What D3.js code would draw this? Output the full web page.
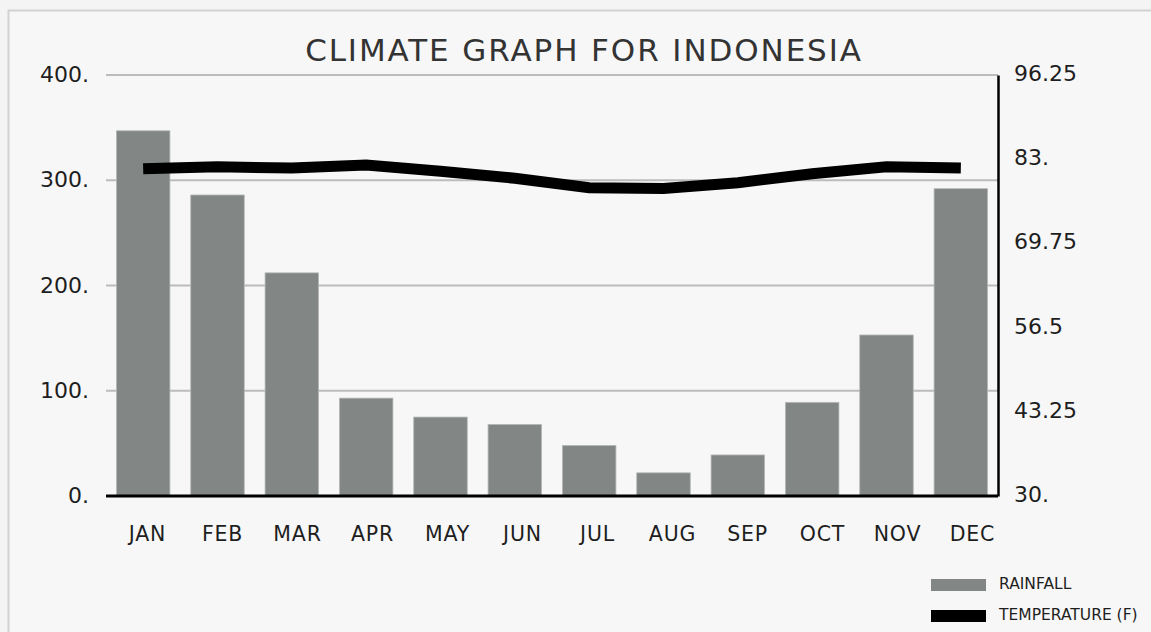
<!DOCTYPE html>
<html>
<head>
<meta charset="utf-8">
<script src="https://cdn.jsdelivr.net/npm/d3@7"></script>
<style>
  body { margin: 0; background: #f4f4f4; }
  text { font-family: "DejaVu Sans", sans-serif; fill: #1e1e1e; }
</style>
</head>
<body>
<div class="chartContainer"></div>
<script>
// DATA
var months = ['JAN', 'FEB', 'MAR', 'APR', 'MAY', 'JUN', 'JUL', 'AUG', 'SEP', 'OCT', 'NOV', 'DEC']
var rainfall = [347, 286, 212, 93, 75, 68, 48, 22, 39, 89, 153, 292]
var temperature = [81.5, 81.8, 81.6, 82.1, 81.1, 80.0, 78.5, 78.4, 79.3, 80.7, 81.8, 81.6]
var rainTicks = [0, 100, 200, 300, 400]
var tempTicks = [30, 43.25, 56.5, 69.75, 83, 96.25]

// SIZING
var W = 1151, H = 632
var margin = { top: 75, right: 153, bottom: 136, left: 106 }
var width = W - margin.left - margin.right
var height = H - margin.top - margin.bottom

var svg = d3.select('div.chartContainer')
  .append('svg')
  .attr('width', W)
  .attr('height', H)

// FRAME
svg.append('rect')
  .attr('x', 0).attr('y', 0).attr('width', W).attr('height', H)
  .attr('fill', '#f4f4f4')
svg.append('rect')
  .attr('x', 8.5).attr('y', 10.5).attr('width', W + 20).attr('height', H + 20)
  .attr('fill', '#f7f7f7')
  .attr('stroke', '#d2d2d2')
  .attr('stroke-width', 2)

var g = svg.append('g')
  .attr('transform', 'translate(' + margin.left + ',' + margin.top + ')')

// SCALES
var x = d3.scaleBand().domain(months).range([0, width]).paddingInner(0.28).paddingOuter(0.14)
// month labels sit a bit right of the bars in the original
var xLabel = d3.scalePoint().domain(months).range([41, 866])
var y = d3.scaleLinear().domain([0, 400]).range([height, 0])
var y2 = d3.scaleLinear().domain([30, 96.25]).range([height, 0])

var fmt = function(d) { return d3.format('')(d) + (Number.isInteger(d) ? '.' : '') }

// GRIDLINES
g.append('g')
  .selectAll('line')
  .data(rainTicks.filter(function(d) { return d > 0 }))
  .enter()
  .append('line')
  .attr('x1', 0).attr('x2', width)
  .attr('y1', function(d) { return y(d) }).attr('y2', function(d) { return y(d) })
  .attr('stroke', '#bcbcbc')
  .attr('stroke-width', 2)

// BARS
g.selectAll('rect.bar')
  .data(rainfall)
  .enter()
  .append('rect')
  .attr('class', 'bar')
  .attr('x', function(d, i) { return x(months[i]) })
  .attr('y', function(d) { return y(d) })
  .attr('width', x.bandwidth())
  .attr('height', function(d) { return height - y(d) })
  .attr('fill', '#828785')
  .attr('stroke', '#b5b8b7')
  .attr('stroke-width', 0.8)

// LEFT AXIS
var left = g.append('g')
  .call(d3.axisLeft(y).tickValues(rainTicks).tickFormat(fmt).tickSize(0).tickPadding(17))
left.select('.domain').remove()
left.selectAll('text').style('font-size', '22px').attr('dy', '0.3em')

// BOTTOM AXIS
var bottom = g.append('g')
  .attr('transform', 'translate(0,' + height + ')')
  .call(d3.axisBottom(xLabel).tickSize(0).tickPadding(30))
bottom.select('.domain').attr('d', 'M0,0H' + width).attr('stroke', '#000').attr('stroke-width', 3)
bottom.selectAll('text').style('font-size', '20.5px').style('letter-spacing', '0.8px')

// RIGHT AXIS
var right = g.append('g')
  .attr('transform', 'translate(' + width + ',0)')
  .call(d3.axisRight(y2).tickValues(tempTicks).tickFormat(fmt).tickSize(0).tickPadding(16))
right.select('.domain').attr('stroke', '#000').attr('stroke-width', 2.5)
right.selectAll('text').style('font-size', '22px').attr('dy', '0.25em')

// TEMPERATURE LINE
var valueline = d3.line()
  .x(function(d, i) { return x(months[i]) + x.bandwidth() / 2 })
  .y(function(d) { return y2(d) })
  .curve(d3.curveLinear)

g.append('path')
  .datum(temperature)
  .attr('d', valueline)
  .attr('fill', 'none')
  .attr('stroke', '#000')
  .attr('stroke-width', 11)

// TITLE
svg.append('text')
  .attr('x', 584)
  .attr('y', 61)
  .style('text-anchor', 'middle')
  .style('font-size', '31px')
  .style('letter-spacing', '1.9px')
  .style('fill', '#333')
  .text('CLIMATE GRAPH FOR INDONESIA')

// LEGEND
var legend = [
  { label: 'RAINFALL', color: '#828785', y: 579 },
  { label: 'TEMPERATURE (F)', color: '#000', y: 610 }
]
var lg = svg.append('g')
lg.selectAll('rect')
  .data(legend)
  .enter()
  .append('rect')
  .attr('x', 931).attr('y', function(d) { return d.y })
  .attr('width', 55).attr('height', 12)
  .attr('fill', function(d) { return d.color })
lg.selectAll('text')
  .data(legend)
  .enter()
  .append('text')
  .attr('x', 999).attr('y', function(d) { return d.y + 5 })
  .attr('dy', '0.35em')
  .style('font-size', '15.5px')
  .text(function(d) { return d.label })
</script>
</body>
</html>
